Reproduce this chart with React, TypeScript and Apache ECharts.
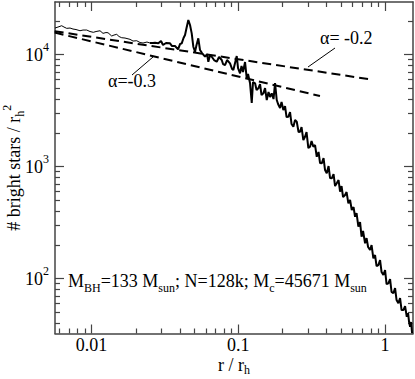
import React, { useEffect, useRef } from 'react';
import * as echarts from 'echarts';

// r / r_h
const rValues = [
  0.00563, 0.005902, 0.006254, 0.006484, 0.006766, 0.007126, 0.007468, 0.007828, 0.008336, 0.008738,
  0.009262, 0.009752, 0.01027, 0.01072, 0.01141, 0.01196, 0.01253, 0.01294, 0.01371, 0.01421,
  0.01483, 0.01538, 0.01604, 0.01689, 0.01827, 0.01915, 0.0203, 0.02138, 0.02241, 0.02385, 0.025,
  0.02621, 0.02704, 0.02849, 0.02972, 0.03067, 0.03215, 0.03423, 0.03532, 0.03702, 0.03882,
  0.04005, 0.04113, 0.04231, 0.04332, 0.04435, 0.04562, 0.04685, 0.04811, 0.04934, 0.05067,
  0.05188, 0.05336, 0.05481, 0.05656, 0.05929, 0.06118, 0.06245, 0.06414, 0.06588, 0.0683,
  0.07126, 0.07386, 0.07706, 0.07865, 0.08118, 0.08377, 0.08778, 0.0906, 0.09246, 0.09495,
  0.09752, 0.09954, 0.1027,
  0.1051, 0.1076, 0.1111, 0.1141, 0.1164, 0.1202, 0.1234, 0.1259, 0.13, 0.1331,
  0.1369, 0.1406, 0.1439, 0.1481, 0.1521, 0.1562, 0.1606, 0.1644, 0.1689, 0.1737,
  0.1779, 0.1827, 0.1865, 0.1924, 0.197, 0.2026, 0.2081, 0.2131, 0.2192, 0.2251,
  0.2305, 0.2371, 0.2435, 0.2501, 0.2573, 0.2634, 0.2696, 0.2773, 0.2848, 0.2916, 0.3, 0.3081,
  0.3155, 0.3245, 0.3333, 0.3423, 0.3521, 0.3605, 0.3702, 0.3808, 0.3899, 0.4005,
  0.412, 0.4218, 0.4332, 0.4456, 0.4562, 0.4685, 0.482, 0.4935, 0.5052, 0.5173,
  0.5338, 0.5466, 0.5622, 0.5774, 0.5929, 0.6099, 0.6244, 0.6393, 0.6577, 0.6754,
  0.6915, 0.7079, 0.7307, 0.7481, 0.7659, 0.7903, 0.8091, 0.8321, 0.8546, 0.8751,
  0.9, 0.9245, 0.9465, 0.9737, 1.0, 1.0238, 1.0532, 1.0817, 1.1073, 1.1391,
  1.17, 1.1978, 1.2321, 1.2654, 1.2957, 1.3327, 1.3688, 1.4059, 1.435, 1.4577,
  1.4808, 1.5042, 1.5276
];

// # bright stars / r_h^2
const starCounts = [
  17240, 17600, 18080, 17600, 17130, 17240, 16890, 16720, 16310, 16550,
  16550, 16050, 15790, 16050, 16310, 15460, 15720, 15650, 14630, 14930,
  15150, 14480, 14130, 14040, 13670, 13200, 13280, 12800, 12670, 12930, 12670,
  12670, 12750, 12590, 13200, 12160, 12670, 12590, 11910, 11910, 11130,
  12410, 12590, 14040, 14930, 17240, 20320, 18340, 15460, 11740, 10590,
  12160, 13950, 10970, 10310, 9559, 10100, 8625, 9900, 9559, 8930,
  8625, 9500, 8930, 8226, 8060, 8930, 8344, 7424, 7270, 8400,
  9697, 7575, 6795,
  7896, 6981, 8570, 6133, 6698, 5534, 3690, 5684, 5534, 4819,
  4991, 5452, 4348, 4504, 5022, 3925, 4626, 4174, 4504, 4006,
  5567, 3925, 3614, 3330, 3766, 3195, 3469, 2767, 2784, 3066,
  2396, 2267, 2601, 2512, 2032, 2045, 2253, 1724, 1846, 2032, 1463, 1502,
  1690, 1502, 1556, 1223, 1348, 1075, 1068, 1191, 930.7, 869.6,
  1010, 789.5, 784.6, 857, 669.8, 707.9, 757.9, 595.7, 669.8, 534.2,
  556.6, 591.9, 469.3, 502.2, 408.9, 434.8, 356.3, 384.4, 290.1, 319.5,
  236.1, 265.6, 206.2, 229.9, 191.1, 179.7, 199.2, 151.5, 162.1, 129.3,
  132.0, 146.3, 114.3, 107.5, 119.1, 89.3, 90.6, 99.0, 75.8, 73.8,
  82.3, 64.3, 60.1, 67.0, 52.3, 52.3, 56.8, 45.6, 49.2, 40.9,
  37.1, 40.9, 32.6
];

// index where the profile turns from the smooth inner part to the noisy outer part
const SPLIT_INDEX = 30;

// power-law guide lines (alpha = -0.2 and alpha = -0.3)
const alpha02R = [0.0056, 0.766];
const alpha02N = [16140, 6040];
const alpha03R = [0.0056, 0.36];
const alpha03N = [15700, 4256];

const xMajorTicks = [0.01, 0.1, 1];
const xMinorTicks = [0.006, 0.007, 0.008, 0.009, 0.02, 0.03, 0.04, 0.05, 0.06, 0.07, 0.08, 0.09,
  0.2, 0.3, 0.4, 0.5, 0.6, 0.7, 0.8, 0.9];
const yMajorTicks = [100, 1000, 10000];
const yMinorTicks = [40, 50, 60, 70, 80, 90, 200, 300, 400, 500, 600, 700, 800, 900,
  2000, 3000, 4000, 5000, 6000, 7000, 8000, 9000, 20000];

const X_MIN = 0.00563;
const X_MAX = 1.55;
const Y_MIN = 32.3;
const Y_MAX = 29450;

const FONT = 'Liberation Serif';
const AXIS_COLOR = '#444';

export default function App() {
  const ref = useRef<HTMLDivElement>(null);

  useEffect(() => {
    document.body.style.margin = '0';
    if (!ref.current) return;
    const chart = echarts.init(ref.current, null, { renderer: 'svg' });

    const mkX = (position: string, major: boolean, showLine: boolean, showLabel: boolean) => ({
      type: 'log',
      logBase: 10,
      gridIndex: 0,
      position,
      min: X_MIN,
      max: X_MAX,
      splitLine: { show: false },
      axisLine: { show: showLine, lineStyle: { color: AXIS_COLOR, width: 1.5 } },
      axisTick: {
        show: true,
        inside: true,
        length: major ? 9 : 5,
        customValues: major ? xMajorTicks : xMinorTicks,
        lineStyle: { color: AXIS_COLOR, width: 1.2 },
      },
      axisLabel: {
        show: showLabel,
        customValues: xMajorTicks,
        margin: 2,
        fontFamily: FONT,
        fontSize: 18,
        color: '#000',
        formatter: (v: number) => String(v),
      },
    });

    const mkY = (position: string, major: boolean, showLine: boolean, showLabel: boolean) => ({
      type: 'log',
      logBase: 10,
      gridIndex: 0,
      position,
      min: Y_MIN,
      max: Y_MAX,
      splitLine: { show: false },
      axisLine: { show: showLine, lineStyle: { color: AXIS_COLOR, width: 1.5 } },
      axisTick: {
        show: true,
        inside: true,
        length: major ? 9 : 5,
        customValues: major ? yMajorTicks : yMinorTicks,
        lineStyle: { color: AXIS_COLOR, width: 1.2 },
      },
      axisLabel: {
        show: showLabel,
        customValues: yMajorTicks,
        margin: 6,
        fontFamily: FONT,
        fontSize: 18,
        color: '#000',
        formatter: (v: number) => '10{sup|' + Math.round(Math.log10(v)) + '}',
        rich: {
          sup: { fontFamily: FONT, fontSize: 12, color: '#000', padding: [0, 0, 16, 0] },
        },
      },
    });

    const xAxes: any[] = [
      {
        ...mkX('bottom', true, true, true),
        name: 'r / r{sub|h}',
        nameLocation: 'middle',
        nameGap: 20,
        nameMoveOverlap: false,
        nameTextStyle: {
          fontFamily: FONT,
          fontSize: 18,
          color: '#000',
          rich: { sub: { fontFamily: FONT, fontSize: 12, color: '#000', padding: [10, 0, 0, 0] } },
        },
      },
      mkX('bottom', false, false, false),
      mkX('top', true, true, false),
      mkX('top', false, false, false),
    ];
    const yAxes: any[] = [
      {
        ...mkY('left', true, true, true),
        name: '# bright stars / r{sub|h}{sup|2}',
        nameLocation: 'middle',
        nameGap: 28,
        nameMoveOverlap: false,
        nameTextStyle: {
          fontFamily: FONT,
          fontSize: 18,
          color: '#000',
          rich: {
            sub: { fontFamily: FONT, fontSize: 12, color: '#000', padding: [12, 0, 0, 0] },
            sup: { fontFamily: FONT, fontSize: 12, color: '#000', padding: [0, 0, 14, 0] },
          },
        },
      },
      mkY('left', false, false, false),
      mkY('right', true, true, false),
      mkY('right', false, false, false),
    ];

    const profile = rValues.map((r, i) => [r, starCounts[i]]);
    const profileInner = profile.slice(0, SPLIT_INDEX + 1);
    const profileOuter = profile.slice(SPLIT_INDEX);
    const a02 = alpha02R.map((r, i) => [r, alpha02N[i]]);
    const a03 = alpha03R.map((r, i) => [r, alpha03N[i]]);

    const textStyleBase = { fontFamily: FONT, fontSize: 18, fill: '#000' };

    chart.setOption({
      animation: false,
      backgroundColor: '#fff',
      grid: {
        left: 55,
        top: 2,
        width: 358,
        height: 331.5,
        containLabel: false,
        outerBoundsMode: 'none',
      },
      xAxis: xAxes,
      yAxis: yAxes,
      series: [
        {
          type: 'line',
          xAxisIndex: 0,
          yAxisIndex: 0,
          data: profileInner,
          showSymbol: false,
          symbol: 'none',
          lineStyle: { color: '#000', width: 1 },
          z: 3,
        },
        {
          type: 'line',
          xAxisIndex: 0,
          yAxisIndex: 0,
          data: profileOuter,
          showSymbol: false,
          symbol: 'none',
          lineStyle: { color: '#000', width: 2 },
          z: 3,
        },
        {
          type: 'line',
          xAxisIndex: 0,
          yAxisIndex: 0,
          data: a02,
          showSymbol: false,
          symbol: 'none',
          lineStyle: { color: '#000', width: 2, type: [9, 5] },
          z: 2,
        },
        {
          type: 'line',
          xAxisIndex: 0,
          yAxisIndex: 0,
          data: a03,
          showSymbol: false,
          symbol: 'none',
          lineStyle: { color: '#000', width: 2, type: [9, 5] },
          z: 2,
        },
      ],
      graphic: [
        {
          type: 'text',
          style: { ...textStyleBase, text: 'α=-0.3', x: 108, y: 81, verticalAlign: 'middle' },
        },
        {
          type: 'line',
          shape: { x1: 132, y1: 75, x2: 153, y2: 57 },
          style: { stroke: '#000', lineWidth: 1 },
        },
        {
          type: 'text',
          style: { ...textStyleBase, text: 'α= -0.2', x: 320, y: 38, verticalAlign: 'middle' },
        },
        {
          type: 'line',
          shape: { x1: 335, y1: 48, x2: 308, y2: 67 },
          style: { stroke: '#000', lineWidth: 1 },
        },
        {
          type: 'text',
          style: {
            ...textStyleBase,
            text: 'M{sub|BH}=133 M{sub|sun}; N=128k; M{sub|c}=45671 M{sub|sun}',
            x: 68,
            y: 281,
            verticalAlign: 'middle',
            rich: {
              sub: { fontFamily: FONT, fontSize: 12, fill: '#000', padding: [14, 0, 0, 0] },
            },
          },
        },
      ],
    });

    return () => chart.dispose();
  }, []);

  return <div ref={ref} style={{ width: 415, height: 379 }} />;
}
